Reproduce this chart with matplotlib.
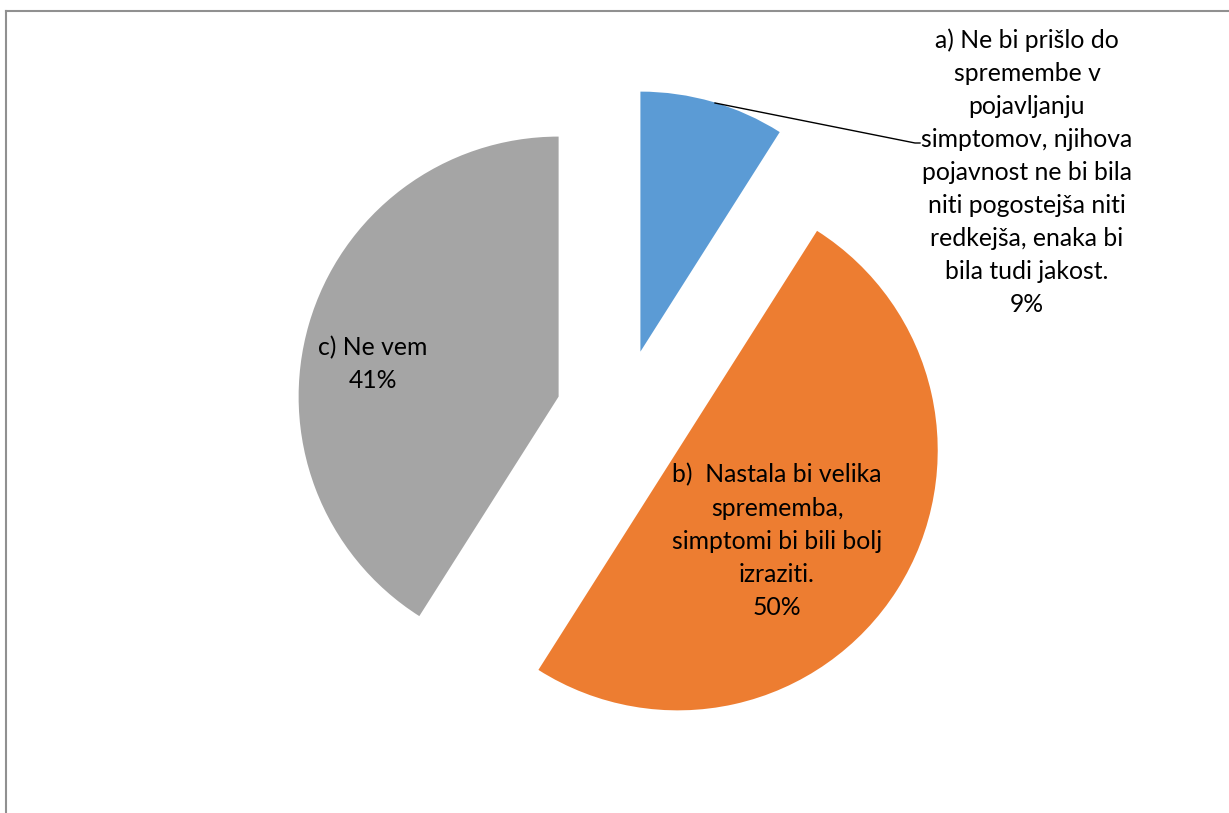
import matplotlib.pyplot as plt
from matplotlib.lines import Line2D

labels = [
    "a) Ne bi prišlo do\nspremembe v\npojavljanju\nsimptomov, njihova\npojavnost ne bi bila\nniti pogostejša niti\nredkejša, enaka bi\nbila tudi jakost.",
    "b)  Nastala bi velika\nsprememba,\nsimptomi bi bili bolj\nizraziti.",
    "c) Ne vem",
]
values = [9, 50, 41]
colors = ["#5B9BD5", "#ED7D31", "#A5A5A5"]

W, H = 1229, 813
plt.rcParams["font.family"] = ["Lato", "DejaVu Sans"]

fig = plt.figure(figsize=(W / 100, H / 100), dpi=100)
ax = fig.add_axes([0, 0, 1, 1])

# pie drawn in pixel units, every slice pulled out 66 px from the centre
ax.pie(values, colors=colors, startangle=90, counterclock=False,
       center=(622, H - 415), radius=260, explode=[66] * 3,
       wedgeprops=dict(linewidth=0), frame=True)
ax.set_xlim(0, W)
ax.set_ylim(0, H)
ax.set_aspect("equal")
ax.axis("off")

fs = 17.8
ls = 1.53
ax.text(1027, H - 172, labels[0] + "\n%d%%" % values[0], ha="center",
        va="center", fontsize=fs, linespacing=ls)
ax.text(777, H - 541, labels[1] + "\n%d%%" % values[1], ha="center",
        va="center", fontsize=fs, linespacing=ls)
ax.text(373, H - 364, labels[2] + "\n%d%%" % values[2], ha="center",
        va="center", fontsize=fs, linespacing=ls)

# leader line for the small slice
ax.plot([715, 915, 920], [H - 103, H - 143, H - 143], color="black", lw=1)

# chart frame (top and left edges)
fig.add_artist(Line2D([6 / W, 6 / W], [0, 1 - 11 / H], color="#909090", lw=1.5))
fig.add_artist(Line2D([6 / W, 1], [1 - 11 / H, 1 - 11 / H], color="#909090", lw=1.5))

fig.savefig("out.png", dpi=100, facecolor="white")
